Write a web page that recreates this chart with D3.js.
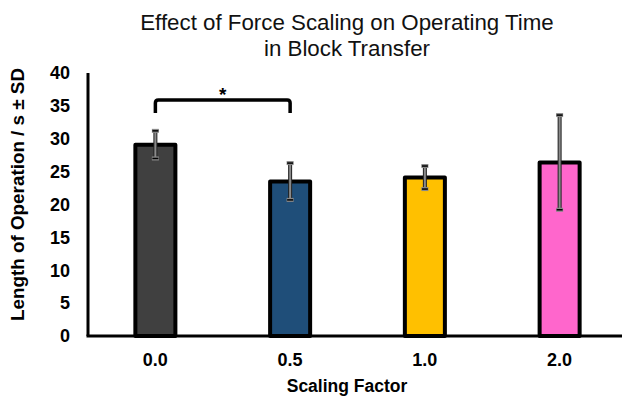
<!DOCTYPE html>
<html>
<head>
<meta charset="utf-8">
<script src="https://cdn.jsdelivr.net/npm/d3@7"></script>
<style>
  html, body { margin: 0; padding: 0; background: #fff; }
  svg { display: block; font-family: "Liberation Sans", Arial, sans-serif; }
</style>
</head>
<body>
<svg id="chart" width="625" height="396"></svg>
<script>
// Scaling factors and mean operating time (s) with standard deviations
const categories = ["0.0", "0.5", "1.0", "2.0"];
const means = [29.1, 23.5, 24.1, 26.4];
const sds = [2.1, 2.8, 1.75, 7.2];
const colors = ["#404040", "#1F4E79", "#FFC000", "#FF66CC"];
const yTicks = [0, 5, 10, 15, 20, 25, 30, 35, 40];
const titleLines = ["Effect of Force Scaling on Operating Time", "in Block Transfer"];
// significant pairwise difference: indices of the compared bars
const sigPair = [0, 1];

const svg = d3.select("#chart");
const plotLeft = 88, plotRight = 627, plotTop = 73, plotBottom = 336;

const x = d3.scaleBand().domain(categories).range([plotLeft, plotRight])
  .paddingInner(0.703).paddingOuter(0.3515);
const y = d3.scaleLinear().domain([0, 40]).range([plotBottom, plotTop]);

// title
svg.append("g").selectAll("text").data(titleLines).join("text")
  .attr("x", 347).attr("y", (d, i) => 30 + i * 26)
  .attr("text-anchor", "middle").attr("font-size", 22.3).attr("fill", "#111")
  .text(d => d);

// y axis with tick labels only
const yAxis = svg.append("g").attr("transform", `translate(${plotLeft},0)`)
  .call(d3.axisLeft(y).tickValues(yTicks).tickSize(0).tickPadding(18));
yAxis.select(".domain").remove();
yAxis.selectAll("text").attr("font-size", 18).attr("font-weight", "bold")
  .attr("font-family", "Liberation Sans, Arial, sans-serif").attr("fill", "#000");

// x axis labels
const xAxis = svg.append("g").attr("transform", `translate(0,${plotBottom})`)
  .call(d3.axisBottom(x).tickSize(0).tickPadding(17));
xAxis.select(".domain").remove();
xAxis.selectAll("text").attr("font-size", 18).attr("font-weight", "bold")
  .attr("font-family", "Liberation Sans, Arial, sans-serif").attr("fill", "#000");

// bars
svg.append("g").selectAll("rect").data(categories).join("rect")
  .attr("x", d => x(d)).attr("width", x.bandwidth())
  .attr("y", (d, i) => y(means[i])).attr("height", (d, i) => y(0) - y(means[i]))
  .attr("fill", (d, i) => colors[i])
  .attr("stroke", "#000").attr("stroke-width", 4).attr("stroke-linejoin", "round");

// axis lines
svg.append("line").attr("x1", plotLeft).attr("x2", plotLeft).attr("y1", y(40)).attr("y2", y(0))
  .attr("stroke", "#000").attr("stroke-width", 3);
svg.append("line").attr("x1", plotLeft - 1.5).attr("x2", 622).attr("y1", y(0)).attr("y2", y(0))
  .attr("stroke", "#000").attr("stroke-width", 3);

// error bars
const eb = svg.append("g").selectAll("g").data(categories).join("g")
  .attr("transform", d => `translate(${x(d) + x.bandwidth() / 2},0)`);
eb.append("line").attr("y1", (d, i) => y(means[i] + sds[i])).attr("y2", (d, i) => y(means[i] - sds[i]))
  .attr("stroke", "#222").attr("stroke-width", 4);
eb.append("line").attr("y1", (d, i) => y(means[i] + sds[i])).attr("y2", (d, i) => y(means[i] - sds[i]))
  .attr("stroke", "#8a8a8a").attr("stroke-width", 2);
[1, -1].forEach(s => {
  eb.append("rect").attr("x", -3.5).attr("width", 7)
    .attr("y", (d, i) => y(means[i] + s * sds[i]) - 2).attr("height", 4)
    .attr("fill", "#888");
  eb.append("line").attr("x1", -3).attr("x2", 3)
    .attr("y1", (d, i) => y(means[i] + s * sds[i])).attr("y2", (d, i) => y(means[i] + s * sds[i]))
    .attr("stroke", "#000").attr("stroke-width", 1.5);
});

// significance bracket
const bx1 = x(categories[sigPair[0]]) + x.bandwidth() / 2;
const bx2 = x(categories[sigPair[1]]) + x.bandwidth() / 2;
const by = 100, legs = 13, r = 3;
svg.append("path")
  .attr("d", `M${bx1},${by + legs} V${by + r} Q${bx1},${by} ${bx1 + r},${by} H${bx2 - r} Q${bx2},${by} ${bx2},${by + r} V${by + legs}`)
  .attr("fill", "none").attr("stroke", "#000").attr("stroke-width", 3.5);
svg.append("text").attr("x", (bx1 + bx2) / 2).attr("y", 101)
  .attr("text-anchor", "middle").attr("font-size", 19).attr("font-weight", "bold").text("*");

// axis titles
svg.append("text").attr("x", 347).attr("y", 392).attr("text-anchor", "middle")
  .attr("font-size", 17.5).attr("font-weight", "bold").text("Scaling Factor");
svg.append("text").attr("transform", "translate(24,194.5) rotate(-90)")
  .attr("text-anchor", "middle").attr("font-size", 18).attr("font-weight", "bold")
  .attr("textLength", 253).attr("lengthAdjust", "spacingAndGlyphs")
  .text("Length of Operation / s ± SD");
</script>
</body>
</html>
